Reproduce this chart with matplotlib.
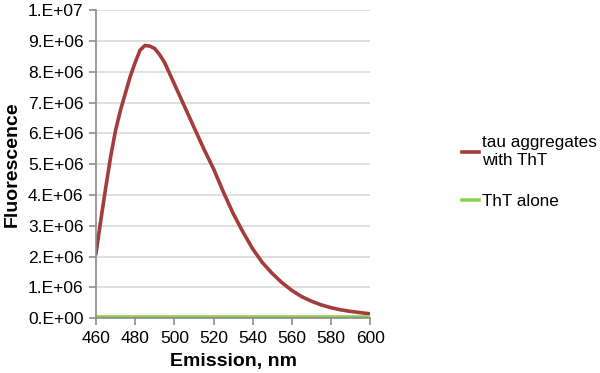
import matplotlib.pyplot as plt

plt.rcParams['font.family'] = ['Liberation Sans', 'DejaVu Sans']

wavelength = [460, 462.5, 465, 467.5, 470, 472.5, 475, 477.5, 480, 482.5, 485,
              487.5, 490, 492.5, 495, 500, 505, 510, 515, 520, 525, 530, 535,
              540, 545, 550, 555, 560, 565, 570, 575, 580, 585, 590, 595, 600]
tau_tht = [2.1e6, 3.2e6, 4.25e6, 5.25e6, 6.1e6, 6.75e6, 7.3e6, 7.85e6, 8.3e6,
           8.7e6, 8.85e6, 8.83e6, 8.75e6, 8.55e6, 8.3e6, 7.6e6, 6.9e6, 6.2e6,
           5.5e6, 4.85e6, 4.1e6, 3.4e6, 2.8e6, 2.25e6, 1.8e6, 1.45e6, 1.15e6,
           0.9e6, 0.7e6, 0.55e6, 0.43e6, 0.34e6, 0.27e6, 0.22e6, 0.18e6, 0.14e6]
tht_alone = [3e4] * len(wavelength)
yticks = [i * 1e6 for i in range(11)]
ylabels = ['0.E+00', '1.E+06', '2.E+06', '3.E+06', '4.E+06', '5.E+06',
           '6.E+06', '7.E+06', '8.E+06', '9.E+06', '1.E+07']

fig = plt.figure(figsize=(6, 3.73), dpi=100)
ax = fig.add_axes([0.16, 0.147, 0.457, 0.826])

l1, = ax.plot(wavelength, tau_tht, color='#a33d3c', lw=2.6, label='tau aggregates\nwith ThT',
              solid_joinstyle='round')
l2, = ax.plot(wavelength, tht_alone, color='#8ccf50', lw=2.6, label='ThT alone')

ax.set_xlim(460, 600)
ax.set_ylim(0, 1e7)
ax.set_xticks(range(460, 601, 20))
ax.set_yticks(yticks)
ax.set_yticklabels(ylabels)
ax.grid(axis='y', color='#d9d9d9', lw=1.2)
ax.set_axisbelow(True)
for s in ['top', 'right']:
    ax.spines[s].set_visible(False)
for s in ['left', 'bottom']:
    ax.spines[s].set_color('#8c8c8c')
    ax.spines[s].set_linewidth(1.2)
ax.tick_params(colors='#8c8c8c', labelcolor='black', labelsize=12.5, length=5, width=1.2, pad=4)
ax.set_xlabel('Emission, nm', fontsize=14, fontweight='bold', labelpad=5)
ax.set_ylabel('Fluorescence', fontsize=14, fontweight='bold', labelpad=5)

fig.legend(handles=[l1, l2], loc='upper left', bbox_to_anchor=(0.77, 0.637),
           frameon=False, fontsize=12.3, handlelength=1.0, handletextpad=0.15,
           labelspacing=1.55, borderaxespad=0, borderpad=0)

fig.savefig('out.png')
